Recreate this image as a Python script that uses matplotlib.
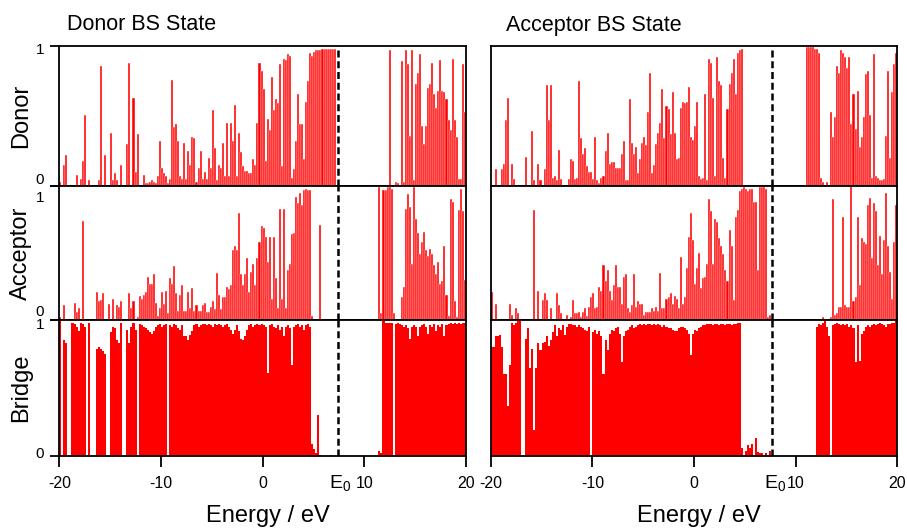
import numpy as np
import matplotlib
matplotlib.use("Agg")
import matplotlib.pyplot as plt

plt.rcParams['font.family'] = ['Liberation Sans', 'DejaVu Sans']
plt.rcParams['mathtext.default'] = 'regular'

# ---------------- data ----------------
# weights binned on a 0.2 eV grid from -20 to 20 eV (200 bins, bin centres)
energy = np.round(np.arange(-19.9, 20.0, 0.2), 2)

column_titles = ["Donor BS State", "Acceptor BS State"]
row_labels = ["Donor", "Acceptor", "Bridge"]
x_ticks = [-20, -10, 0, 10, 20]
x_ticklabels = ["-20", "-10", "0", "10", "20"]
e0_values = [7.4, 7.7]   # E0 for donor BS state, acceptor BS state

donor_bs_donor = [
    0.03, 0, 0.15, 0.22, 0, 0, 0, 0, 0.08, 0,
    0.05, 0.18, 0.51, 0, 0.04, 0, 0, 0, 0, 0.04,
    0.86, 0, 0.22, 0, 0, 0.38, 0.04, 0.09, 0.04, 0,
    0.15, 0, 0, 0.30, 0.88, 0, 0.63, 0.10, 0.37, 0,
    0, 0.08, 0.02, 0.02, 0.03, 0.04, 0.03, 0.02, 0.07, 0.32,
    0.13, 0.09, 0.07, 0.02, 0.05, 0.76, 0.42, 0.44, 0.32, 0.07,
    0.05, 0.31, 0.05, 0.25, 0.15, 0.35, 0.34, 0.03, 0.13, 0.25,
    0.05, 0.10, 0.05, 0.20, 0.13, 0.54, 0.27, 0.04, 0.15, 0.13,
    0.31, 0.07, 0.45, 0.07, 0.45, 0.32, 0.58, 0.07, 0.38, 0.24,
    0.14, 0.11, 0.11, 0.09, 0.09, 0.19, 0.15, 0.45, 0.88, 0.82,
    0.69, 0.18, 0.48, 0.40, 0.78, 0.54, 0.62, 0.59, 0.87, 0.14,
    0.91, 0.90, 0.94, 0.93, 0.06, 0.12, 0.32, 0.66, 0.44, 0.44,
    0.19, 0.60, 0.75, 0.95, 0.93, 0.96, 0.97, 0.97, 0.97, 0.98,
    0.98, 0.98, 0.98, 0.98, 0.98, 0.98, 0, 0, 0, 0,
    0, 0, 0, 0, 0, 0, 0, 0, 0, 0,
    0, 0, 0, 0, 0, 0, 0, 0, 0, 0,
    0, 0, 0.97, 0, 0, 0.03, 0.02, 0, 0.89, 0.03,
    0.97, 0.87, 0.36, 0.97, 0.04, 0.73, 0.81, 0.94, 0.43, 0.30,
    0.43, 0.70, 0.73, 0.88, 0.66, 0.56, 0.68, 0.90, 0.68, 0.67,
    0.62, 0.47, 0.40, 0.91, 0.47, 0.35, 0.05, 0.05, 0.87, 0.53,
]

donor_bs_acceptor = [
    0.02, 0, 0.11, 0, 0, 0, 0.01, 0.13, 0.06, 0.09,
    0.01, 0.74, 0, 0, 0, 0, 0, 0, 0.21, 0.14,
    0.15, 0.20, 0, 0, 0.12, 0, 0.16, 0, 0.11, 0.10,
    0.14, 0, 0, 0, 0.20, 0.09, 0.14, 0, 0.02, 0.18,
    0.16, 0.19, 0.21, 0.32, 0.27, 0.27, 0.34, 0.13, 0.03, 0.09,
    0.21, 0.12, 0.22, 0.05, 0.31, 0.27, 0.40, 0.20, 0.07, 0.19,
    0.26, 0.07, 0.07, 0.21, 0.09, 0.24, 0.07, 0.11, 0.07, 0.07,
    0.11, 0.13, 0.06, 0.06, 0.10, 0.14, 0.08, 0.35, 0.19, 0.08,
    0.17, 0.17, 0.25, 0.23, 0.26, 0.52, 0.55, 0.52, 0.80, 0.34,
    0.26, 0.34, 0.46, 0.21, 0.36, 0.42, 0.26, 0.46, 0.58, 0.70,
    0.69, 0.62, 0.43, 0.62, 0.16, 0.62, 0.31, 0.09, 0.83, 0.16,
    0.83, 0.09, 0.37, 0.42, 0.64, 0.65, 0.92, 0.87, 0.95, 0.86,
    0.97, 0.98, 0.97, 0.97, 0.03, 0, 0, 0, 0.71, 0,
    0, 0, 0, 0, 0, 0, 0, 0, 0, 0,
    0, 0, 0, 0, 0, 0, 0, 0, 0, 0,
    0, 0, 0, 0, 0, 0, 0, 0.99, 0.05, 0.97,
    0.97, 0.99, 0.99, 0.98, 0.05, 0, 0.01, 0, 0.17, 0.25,
    0.83, 0.94, 0.84, 0.42, 0.99, 0.75, 0.65, 0.49, 0.58, 0.66,
    0.52, 0.48, 0.53, 0.49, 0.41, 0.34, 0.43, 0.27, 0.29, 0.55,
    0.19, 0.03, 0.90, 0.88, 0.14, 0.02, 0.82, 0.98, 0.81, 0.30,
]

donor_bs_bridge = [
    1.00, 0, 0.85, 0.83, 0, 0, 0.98, 0.97, 0.95, 0.92,
    0.98, 0.97, 0.95, 0, 0.98, 0, 0, 0, 0.79, 0.80,
    0.79, 0.77, 0.75, 0, 0, 0.91, 0.95, 0.94, 0.85, 0.83,
    0.98, 0, 0, 0.93, 0.83, 0.95, 0.98, 0.93, 0, 0.97,
    0.96, 0.95, 0.94, 0.93, 0.91, 0.90, 0.92, 0.95, 0.96, 0.97,
    0.95, 0.96, 0.97, 0, 0.96, 0.95, 0.97, 0.96, 0.94, 0.93,
    0.96, 0.88, 0.88, 0.85, 0.89, 0.92, 0.96, 0.97, 0.95, 0.96,
    0.97, 0.97, 0.96, 0.97, 0.96, 0.95, 0.97, 0.96, 0.97, 0.96,
    0.95, 0.96, 0.97, 0.95, 0.93, 0.90, 0.93, 0.96, 0.92, 0.86,
    0.85, 0.88, 0.93, 0.96, 0.97, 0.95, 0.96, 0.97, 0.96, 0.97,
    0.96, 0.95, 0.61, 0.96, 0.97, 0.95, 0.94, 0.96, 0.93, 0.95,
    0.88, 0.95, 0.96, 0.94, 0.67, 0.95, 0.96, 0.97, 0.95, 0.96,
    0.93, 0.96, 0.97, 0.95, 0.09, 0.05, 0.02, 0.30, 0.01, 0,
    0, 0, 0, 0.01, 0, 0, 0, 0, 0, 0,
    0, 0, 0, 0, 0, 0, 0, 0, 0, 0,
    0, 0, 0, 0, 0, 0, 0, 0.04, 0.02, 1.00,
    0.98, 0.98, 0.98, 0.98, 0, 0.97, 0.98, 0.97, 0.96, 0.95,
    0.96, 0.94, 0.86, 0.95, 0.96, 0.95, 0.88, 0.95, 0.96, 0.97,
    0.95, 0.90, 0.96, 0.95, 0.97, 0.92, 0.96, 0.95, 0.97, 0.88,
    0.96, 0.97, 0.98, 0.97, 0.98, 0.97, 0.98, 0.97, 0.98, 0.98,
]

acceptor_bs_donor = [
    0, 0, 0.12, 0, 0, 0.12, 0.16, 0.47, 0.63, 0,
    0.16, 0.05, 0, 0, 0, 0, 0, 0.21, 0, 0,
    0.39, 0.04, 0, 0.16, 0.04, 0, 0.12, 0.72, 0.47, 0.72,
    0.06, 0.07, 0.04, 0.26, 0.05, 0.01, 0, 0, 0.05, 0.19,
    0.18, 0.05, 0.06, 0.75, 0.34, 0.23, 0.27, 0.14, 0.10, 0.10,
    0.05, 0.35, 0.04, 0.02, 0.06, 0.07, 0.25, 0.38, 0.16, 0.17,
    0.17, 0.13, 0.13, 0.13, 0.23, 0.32, 0.04, 0.04, 0.62, 0.31,
    0.23, 0.28, 0.09, 0.19, 0.31, 0.35, 0.29, 0.53, 0.81, 0.09,
    0.15, 0.30, 0.38, 0.45, 0.69, 0.34, 0.57, 0.55, 0.37, 0.67,
    0.38, 0.19, 0.20, 0.56, 0.60, 0.59, 0.60, 0.71, 0.35, 0.33,
    0.43, 0.60, 0.07, 0.05, 0.06, 0.66, 0.04, 0.91, 0.88, 0.63,
    0.07, 0.92, 0.75, 0.72, 0.20, 0.06, 0.55, 0.73, 0.81, 0.91,
    0.66, 0.95, 0.97, 0.98, 0, 0, 0, 0, 0, 0,
    0, 0, 0, 0, 0, 0, 0, 0, 0, 0,
    0, 0, 0, 0, 0, 0, 0, 0, 0, 0,
    0, 0, 0, 0, 0, 0.99, 0.99, 0.99, 0.99, 0.98,
    0.98, 0.95, 0.06, 0.03, 0, 0.03, 0, 0.53, 0.35, 0.49,
    0.86, 0.81, 0.97, 0.95, 0.92, 0.84, 0.92, 0.44, 0.66, 0.41,
    0.68, 0.28, 0.35, 0.49, 0.80, 0.82, 0.51, 0.06, 0.94, 0.07,
    0.06, 0.04, 0.04, 0.05, 0.36, 0.82, 0.20, 0.67, 0.87, 0.95,
]

acceptor_bs_acceptor = [
    0.21, 0, 0.12, 0, 0, 0, 0, 0, 0, 0.12,
    0.04, 0, 0.09, 0.05, 0, 0, 0, 0, 0, 0,
    0, 0.82, 0, 0.22, 0, 0.15, 0.20, 0.15, 0, 0.09,
    0, 0, 0.20, 0.11, 0.05, 0, 0, 0.04, 0, 0.02,
    0.15, 0.05, 0.05, 0.06, 0.02, 0.06, 0.09, 0.03, 0.10, 0.17,
    0.20, 0.09, 0.10, 0.25, 0.22, 0.41, 0.29, 0.37, 0.22, 0.15,
    0.26, 0.41, 0.25, 0.25, 0.12, 0.32, 0.34, 0.09, 0.06, 0.11,
    0.34, 0.10, 0.14, 0.12, 0.12, 0.04, 0.06, 0.06, 0.06, 0.09,
    0.07, 0.10, 0.07, 0.35, 0.09, 0.09, 0.16, 0.17, 0.20, 0.12,
    0.18, 0.16, 0.09, 0.47, 0.12, 0.17, 0.39, 0.62, 0.80, 0.60,
    0.27, 0.39, 0.50, 0.24, 0.31, 0.32, 0.42, 0.90, 0.81, 0.42,
    0.75, 0.73, 0.61, 0.55, 0.49, 0.37, 0.29, 0.67, 0.55, 0.15,
    0.77, 0.82, 0.96, 0.98, 0.99, 0.98, 0.96, 0.98, 0.98, 0.88,
    0.88, 0.37, 0.99, 0.99, 0.99, 0.98, 0.02, 0.04, 0, 0,
    0, 0, 0, 0, 0, 0, 0, 0, 0, 0,
    0, 0, 0, 0, 0, 0, 0, 0, 0, 0,
    0.01, 0, 0, 0.02, 0, 0, 0, 0.02, 0.90, 0.04,
    0.05, 0.10, 0.10, 0.77, 0.11, 0.10, 0.10, 1.00, 0.14, 0.17,
    0.77, 0.26, 0.61, 0.58, 0.57, 0.86, 0.91, 0.46, 0.87, 0.81,
    0.41, 0.63, 0.34, 0.60, 0.95, 0.55, 0.36, 0.16, 0.58, 0.86,
]

acceptor_bs_bridge = [
    0.80, 0.80, 0.88, 0.88, 0.89, 0.80, 0.60, 0.60, 0.37, 0.67,
    0.98, 0.96, 0.98, 0.99, 0.99, 0, 0, 0.86, 0.94, 0.65,
    0.79, 0.19, 0.65, 0.83, 0.78, 0.83, 0.84, 0.88, 0.81, 0.85,
    0.91, 0.96, 0.88, 0.94, 0.93, 0.96, 0.89, 0.95, 0.97, 0.97,
    0.96, 0.96, 0.95, 0.96, 0.95, 0.94, 0.93, 0.92, 0.95, 0,
    0.91, 0.93, 0.90, 0.92, 0.88, 0.60, 0.85, 0.78, 0.90, 0.93,
    0.92, 0.94, 0.95, 0.90, 0.69, 0.88, 0.92, 0.93, 0.95, 0.96,
    0.94, 0.95, 0.96, 0.97, 0.96, 0.97, 0.96, 0.97, 0.97, 0.96,
    0.97, 0.96, 0.97, 0.96, 0.95, 0.96, 0.95, 0.94, 0.94, 0.93,
    0.92, 0.92, 0.94, 0.95, 0.95, 0.94, 0.93, 0.90, 0.74, 0.90,
    0.93, 0.92, 0.94, 0.95, 0.96, 0.96, 0.97, 0.97, 0.97, 0.96,
    0.97, 0.97, 0.96, 0.97, 0.97, 0.96, 0.97, 0.97, 0.96, 0.97,
    0.97, 0.98, 0.98, 0.06, 0, 0.04, 0.08, 0.06, 0.09, 0,
    0.13, 0.03, 0.02, 0.02, 0, 0.02, 0, 0.04, 0, 0,
    0, 0, 0, 0, 0, 0, 0, 0, 0, 0,
    0, 0, 0, 0, 0, 0, 0, 0, 0, 0,
    0.95, 0.97, 0.96, 0.98, 1.00, 0.95, 0.88, 0, 0.96, 0.97,
    0.98, 0.97, 0.96, 0.97, 0.96, 0.97, 0.95, 0.96, 0.94, 0.69,
    0.96, 0.70, 0.90, 0.92, 0.95, 0.96, 0.95, 0.96, 0.97, 0.96,
    0.97, 0.98, 0.97, 0.96, 0.95, 0.97, 0.97, 0.98, 0.98, 0.99,
]

panels = [
    [donor_bs_donor, donor_bs_acceptor, donor_bs_bridge],
    [acceptor_bs_donor, acceptor_bs_acceptor, acceptor_bs_bridge],
]

# ---------------- layout ----------------
W, H = 907, 531
fig = plt.figure(figsize=(W / 100, H / 100), dpi=100)
col_x = [59.3, 490.7]
col_w = 406.5
row_y = [(46, 186), (186, 320), (320, 456)]
# y-tick label vertical offsets (points) for the labels "1" and "0"
ylab_off = [(-2.9, 4.3), (-8.6, 5.8), (-3.6, 1.4)]

red = "#ff0000"
for c in range(2):
    for r in range(3):
        y0, y1 = row_y[r]
        ax = fig.add_axes([col_x[c] / W, 1 - y1 / H, col_w / W, (y1 - y0) / H])
        if r < 2:
            ax.bar(energy, panels[c][r], width=0.2, color=red,
                   edgecolor="white", linewidth=0.3, zorder=2)
        else:
            ax.bar(energy, panels[c][r], width=0.2, color=red,
                   linewidth=0, zorder=2)
        ax.set_xlim(-20, 20)
        ax.set_ylim(0, 1)
        ax.axvline(e0_values[c], color="black", lw=1.8,
                   ls=(0, (2.8, 1.5)), zorder=4)
        for s in ax.spines.values():
            s.set_linewidth(1.3)
            s.set_color("black")
            s.set_zorder(3)
        if c == 0:
            ax.set_yticks([0, 1])
            ax.tick_params(axis="y", direction="out", length=6.5, width=1.3,
                           labelleft=False)
            for val, lab, dy in zip([1, 0], ["1", "0"], ylab_off[r]):
                ax.annotate(lab, xy=(0, val), xycoords="axes fraction",
                            xytext=(-11, dy), textcoords="offset points",
                            ha="right", va="center", fontsize=11)
            fig.text(21 / W, 1 - ((y0 + y1) / 2) / H, row_labels[r],
                     rotation=90, ha="center", va="center", fontsize=17)
        else:
            ax.set_yticks([])
        if r == 2:
            ax.set_xticks(x_ticks)
            ax.set_xticklabels(x_ticklabels)
            ax.tick_params(axis="x", direction="out", length=8, width=1.3,
                           labelsize=11.5, pad=6.5)
            ax.annotate("E$_0$", xy=(e0_values[c], 0),
                        xycoords=("data", "axes fraction"),
                        xytext=(2, -12), textcoords="offset points",
                        ha="center", va="top", fontsize=14)
            ax.set_xlabel("Energy / eV", fontsize=17)
            ax.xaxis.set_label_coords(0.5 + 5 / col_w, -0.36)
        else:
            ax.set_xticks([])
    fig.text((67 if c == 0 else 506) / W, 1 - 25 / H, column_titles[c],
             ha="left", va="center", fontsize=15.5)

fig.savefig("out.png", dpi=100)
